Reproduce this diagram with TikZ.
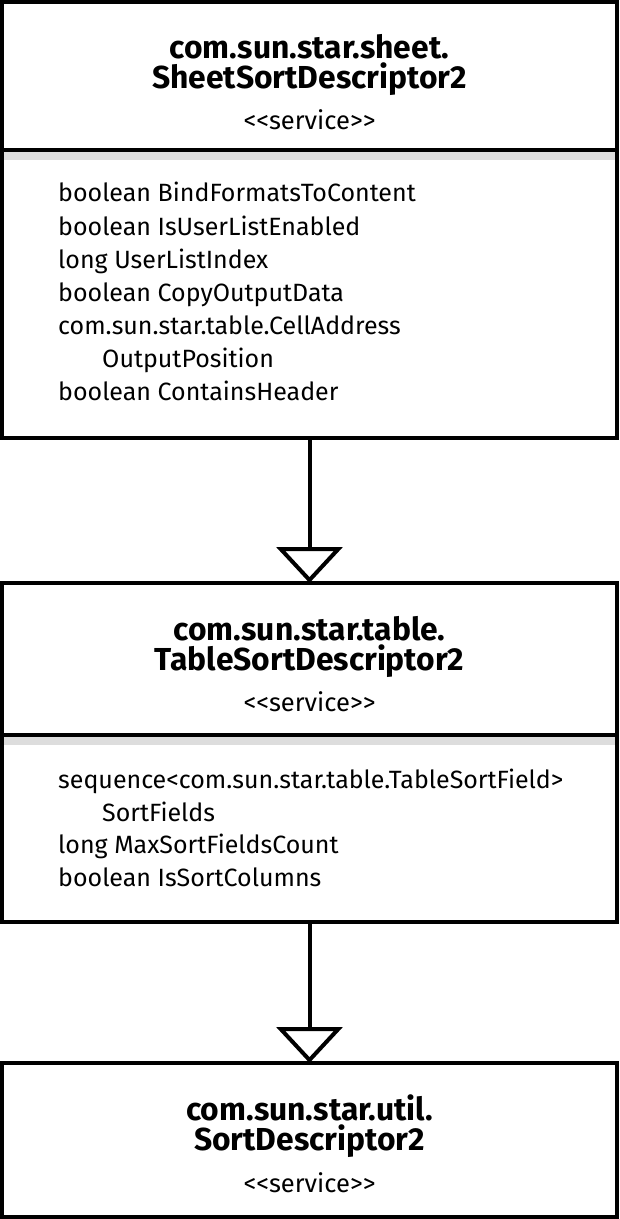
\documentclass[tikz,border=0pt]{standalone}
\usepackage{fontspec}
\setmainfont{Fira Sans}
\usetikzlibrary{arrows.meta}
\definecolor{bandgray}{HTML}{DDDDDD}
\tikzset{
  umlbox/.style={draw=black, line width=3.5pt, minimum width=615pt, inner sep=0pt, outer sep=0pt},
  titletext/.style={anchor=base, inner sep=0pt, font=\fontsize{31.8}{34}\selectfont\bfseries},
  stereo/.style={anchor=base, inner sep=0pt, font=\fontsize{25.5}{28}\selectfont},
  attr/.style={anchor=base west, inner sep=0pt, font=\fontsize{25}{28}\selectfont},
  sepline/.style={line width=3.5pt},
  band/.style={fill=bandgray},
  inherit/.style={line width=4pt, -{Triangle[open, length=36pt, width=66pt, line width=4pt]}}
}
\newcommand{\svc}{<{}<service>{}>}
\begin{document}
\begin{tikzpicture}[x=1pt, y=-1pt]
\useasboundingbox (0,0) rectangle (619,1219);
% boxes
\node[umlbox, minimum height=436pt] (b1) at (309.5,220) {};
\node[umlbox, minimum height=339pt] (b2) at (309.5,752.5) {};
\node[umlbox, minimum height=154pt] (b3) at (309.5,1140) {};
% box 1
\node[titletext] (t1a) at (309.5,58) {com.sun.star.sheet.};
\node[titletext] (t1b) at (309.5,88) {SheetSortDescriptor2};
\node[stereo] (s1) at (309.5,129) {\svc};
\coordinate (c1) at (0,150);
\fill[band] ([xshift=2pt]b1.west |- 0,152) rectangle ([xshift=-2pt]b1.east |- 0,160);
\draw[sepline] (b1.west |- c1) -- (b1.east |- c1);
\node[attr] (a11) at (58,201.5) {boolean BindFormatsToContent};
\node[attr] (a12) at (58,235) {boolean IsUserListEnabled};
\node[attr] (a13) at (58,268.5) {long UserListIndex};
\node[attr] (a14) at (58,301.5) {boolean CopyOutputData};
\node[attr] (a15) at (58,334.5) {com.sun.star.table.CellAddress};
\node[attr] (a16) at (102,367) {OutputPosition};
\node[attr] (a17) at (58,400) {boolean ContainsHeader};
% box 2
\node[titletext] (t2a) at (309.5,640.5) {com.sun.star.table.};
\node[titletext] (t2b) at (309.5,670) {TableSortDescriptor2};
\node[stereo] (s2) at (309.5,711) {\svc};
\coordinate (c2) at (0,735);
\fill[band] ([xshift=2pt]b2.west |- 0,737) rectangle ([xshift=-2pt]b2.east |- 0,745);
\draw[sepline] (b2.west |- c2) -- (b2.east |- c2);
\node[attr] (a21) at (58,788) {sequence<com.sun.star.table.TableSortField>};
\node[attr] (a22) at (102,821) {SortFields};
\node[attr] (a23) at (58,853) {long MaxSortFieldsCount};
\node[attr] (a24) at (58,886) {boolean IsSortColumns};
% box 3
\node[titletext] (t3a) at (309.5,1120) {com.sun.star.util.};
\node[titletext] (t3b) at (309.5,1150) {SortDescriptor2};
\node[stereo] (s3) at (309.5,1192) {\svc};
% connectors
\draw[inherit] (b1.south) -- (b2.north);
\draw[inherit] (b2.south) -- (b3.north);
\end{tikzpicture}
\end{document}
